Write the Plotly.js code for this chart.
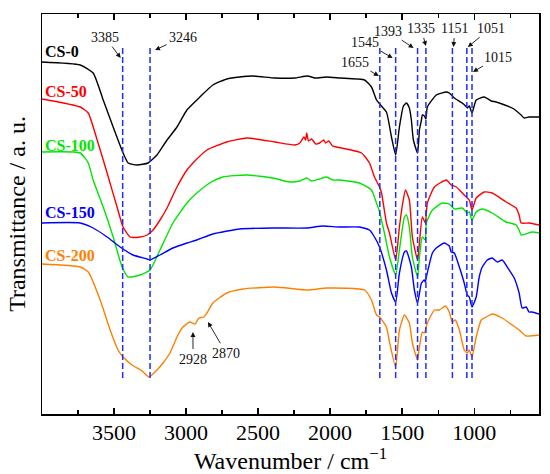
<!DOCTYPE html>
<html>
<head>
<meta charset="utf-8">
<script src="https://cdn.plot.ly/plotly-3.0.1.min.js"></script>
<style>html,body{margin:0;padding:0;background:#fff;}#chart{width:550px;height:474px;}</style>
</head>
<body>
<div id="chart"></div>
<script>
// ---- data (wavenumber in cm^-1, transmittance in arbitrary units, offset) ----
const seriesNames = ['CS-0', 'CS-50', 'CS-100', 'CS-150', 'CS-200'];
const seriesColors = ['#000000', '#ff0000', '#00e600', '#0000ff', '#ff8000'];

const cs0_wn = [4000,3735,3645,3575,3506,3437,3402,3340,3264,3202,3132,3063,2994,2904,2814,2717,2627,2537,2384,2246,2156,2105,2024,1934,1761,1713,1678,1650,1609,1574,1545,1519,1491,1470,1450,1436,1422,1393,1380,1366,1360,1346,1335,1325,1263,1193,1173,1138,1083,1060,1048,1034,1015,986,930,882,847,736,674,653,619,550];
const cs0_t  = [88,87.25,85.25,78.5,71.75,65.25,62.75,62.25,62.75,64.75,68.5,71.75,76,79.25,82.25,83.75,84.25,84.5,84,84,84.5,84,84.25,84,83.5,81.75,78.5,77.25,75.5,69.25,64.75,71.75,77,77.75,76.5,73.5,68.5,65.25,71,73.5,74.75,74.5,73.75,76.75,79.75,80.5,80.25,79,77.75,77,76.5,77,75.25,78.5,79.25,78.25,78,76.5,74.75,74,74.25,74.25];

const cs50_wn = [4000,3735,3679,3617,3548,3479,3437,3389,3319,3271,3229,3181,3132,3063,2994,2952,2855,2717,2578,2384,2246,2210,2182,2170,2163,2150,2128,2100,2073,2045,2031,2010,1983,1955,1782,1727,1692,1657,1643,1609,1588,1545,1519,1498,1477,1450,1429,1393,1380,1360,1339,1325,1276,1193,1159,1124,1069,1034,1015,986,930,875,778,709,688,674,619,550];
const cs50_t  = [78.75,76.75,75.25,68.5,60.25,51.75,46.75,44.25,44.25,44.75,46,48.5,51.5,56.75,61,62.75,66,68,69,68,67.25,67.75,69.25,68.5,70.25,68.25,68.75,67.5,67.75,68.5,67.75,68.25,67,66.75,65.25,62.75,59.25,56.75,55.25,47.75,45.25,38.5,46.75,52.25,56,53.5,44.25,38.5,42.75,49.25,47.75,52.75,56.75,58.5,57.25,56.75,54.75,53.5,51,54,55.5,55.25,53,51.5,49.75,47.75,47.75,47.25];

const cs100_wn = [4000,3735,3679,3645,3575,3506,3444,3402,3319,3250,3181,3091,2994,2925,2835,2745,2578,2398,2281,2210,2163,2128,2073,2024,1983,1934,1796,1713,1678,1657,1623,1588,1545,1519,1484,1470,1450,1429,1393,1380,1360,1339,1332,1290,1221,1173,1138,1083,1048,1034,1015,986,944,875,778,709,688,674,598,550];
const cs100_t  = [65.5,65.25,62.75,58.5,51.75,44.25,36.75,34.25,34.75,36,41,47.75,52.75,55.25,57.75,59.25,59.75,59,58,58.25,59,58.25,58.75,59.25,58.5,58.5,57.75,56,52.75,50.5,45.25,39.25,34.75,41,49.25,49.75,46.75,39.25,34.25,39.25,44.25,43.5,47.75,51,52.75,52.5,51.25,51.5,50.25,50.5,48.5,50.5,51.25,50.25,48,47.25,46,44.75,45.5,45.25];

const cs150_wn = [4000,3735,3645,3548,3458,3368,3271,3250,3181,3091,2994,2925,2814,2627,2398,2163,2052,1934,1796,1727,1692,1657,1609,1574,1545,1519,1484,1470,1436,1415,1393,1366,1346,1339,1332,1290,1263,1207,1173,1159,1138,1103,1069,1048,1034,1015,986,965,944,909,875,840,806,757,722,688,667,639,619,598,550];
const cs150_t  = [47.75,47.75,46.5,44.25,41.75,39.75,38.75,38.5,39.75,41.5,42.75,43.5,45,46.25,46.5,46.5,47,46.75,46.75,46,44.25,41.75,36,30.25,28,35.25,40.5,40.75,36.75,31,27.75,32.75,33.5,33,34.25,40.25,41.5,42.75,42,40.5,40.25,36.75,32.75,29.75,29.25,26.75,29.25,34.25,36.75,38.5,39,38,38.5,36,34,30.25,26.5,26.75,25.5,25.5,25];

const cs200_wn = [4000,3735,3679,3596,3527,3472,3437,3375,3305,3257,3202,3160,3112,3063,3022,2973,2938,2911,2876,2855,2814,2717,2606,2384,2156,2021,1761,1713,1678,1657,1609,1588,1545,1519,1484,1450,1429,1393,1380,1360,1346,1325,1276,1242,1200,1173,1152,1131,1103,1069,1048,1034,1015,986,951,916,875,806,736,688,639,550];
const cs200_t  = [37.5,36.75,35.5,28.5,21,16,14.25,12.25,10.75,9.25,11,12.75,15.25,19.25,21.75,23,22.5,24,24.25,25.25,27.75,30.25,31.25,31.75,31,31.5,31,28.5,24.75,24.25,21.75,18,11.75,21,24.75,22.75,17.75,13.5,16.75,20.5,20.25,22.75,26,26,27,25.5,23,23.5,21,16,15.25,16,14.25,19.25,23.5,24.25,25,24,22.25,21,19.5,19.75];

const peakLineWn = [3440, 3250, 1655, 1545, 1393, 1335, 1151, 1051, 1015];
const peakLabels = ['3385', '3246', '1655', '1545', '1393', '1335', '1151', '1051', '1015'];
const bandWn = [2952, 2848];
const bandLabels = ['2928', '2870'];

const xTickVals = [3500, 3000, 2500, 2000, 1500, 1000];
const xMinorVals = [3750, 3250, 2750, 2250, 1750, 1250, 750];

// ---- styling / layout helpers ----
const FONT = '"Liberation Serif", "Times New Roman", serif';
const L = 42, R = 11, T = 14, B = 60, W = 550, H = 474;
const X0 = 4000, X1 = 550, Y0 = 0, Y1 = 100;
const pw = W - L - R, ph = H - T - B;
const px2paperX = px => (px - L) / pw;
const px2paperY = py => (H - B - py) / ph;
const dataToPx = w => L + (X0 - w) / (X0 - X1) * pw;
const dataToPy = t => H - B - (t - Y0) / (Y1 - Y0) * ph;

const wnSets = [cs0_wn, cs50_wn, cs100_wn, cs150_wn, cs200_wn];
const tSets = [cs0_t, cs50_t, cs100_t, cs150_t, cs200_t];

const traces = seriesNames.map((n, i) => ({
  type: 'scatter', mode: 'lines', name: n,
  x: wnSets[i], y: tSets[i],
  line: {color: seriesColors[i], width: 1.4, shape: 'spline', smoothing: 0.5},
  hoverinfo: 'skip'
}));

const seriesLabelY = [52, 91, 145, 212, 255];
// text centre (tx, ty) in px, arrow tip height (data) and small horizontal shift (px)
const peakLabelLayout = [
  {tx:105, ty:37, tipY:89,    xs:-2},
  {tx:183, ty:37, tipY:91,    xs:5},
  {tx:355, ty:62, tipY:84.5,  xs:-1},
  {tx:365, ty:42, tipY:89,    xs:-3},
  {tx:388, ty:31, tipY:91.5,  xs:-4},
  {tx:421, ty:28, tipY:92,    xs:0},
  {tx:455, ty:28, tipY:91.75, xs:1},
  {tx:491, ty:28, tipY:91.75, xs:1},
  {tx:498, ty:57, tipY:85.5,  xs:1}
];
const bandLabelLayout = [
  {tx:193, ty:359, tipY:20.5, xs:0},
  {tx:226, ty:353, tipY:23,   xs:0}
];

const annotations = [];
seriesNames.forEach((n, i) => {
  annotations.push({xref:'paper', yref:'paper', x: px2paperX(43), y: px2paperY(seriesLabelY[i]),
    xanchor:'left', yanchor:'middle', showarrow:false, text:'<b>' + n + '</b>',
    font:{family: FONT, size:16, color: seriesColors[i]}});
});
function addLabel(text, lay, tipX) {
  const tipPx = dataToPx(tipX) + lay.xs;
  const tipPy = dataToPy(lay.tipY);
  annotations.push({xref:'x', yref:'y', x: tipX, y: lay.tipY, xshift: lay.xs,
    text: text, font:{family: FONT, size:14, color:'#111'}, borderpad:0,
    showarrow:true, arrowhead:2, arrowsize:1.1, arrowwidth:0.9, arrowcolor:'#111',
    axref:'pixel', ayref:'pixel', ax: lay.tx - tipPx, ay: lay.ty - tipPy, standoff:0, startstandoff:2});
}
peakLabels.forEach((t, i) => addLabel(t, peakLabelLayout[i], peakLineWn[i]));
bandLabels.forEach((t, i) => addLabel(t, bandLabelLayout[i], bandWn[i]));

const shapes = peakLineWn.map(w => ({
  type:'line', xref:'x', yref:'y', x0:w, x1:w, y0:9, y1:91.5,
  line:{color:'#1e2cff', width:1.5, dash:'6px,3px'}
}));

const layout = {
  width: W, height: H,
  margin: {l: L, r: R, t: T, b: B, pad: 0},
  paper_bgcolor:'#fff', plot_bgcolor:'#fff',
  showlegend:false,
  font:{family: FONT, color:'#000'},
  xaxis: {
    range:[X0, X1], tickmode:'array', tickvals: xTickVals,
    ticks:'inside', ticklen:6, tickwidth:1.3, tickcolor:'#000', ticklabelstandoff:-2,
    showline:true, linewidth:1.5, linecolor:'#000', mirror:'allticks',
    showgrid:false, zeroline:false,
    tickfont:{family: FONT, size:22, color:'#000'},
    minor:{tickmode:'array', tickvals: xMinorVals, ticks:'inside', ticklen:4, tickwidth:1.3, tickcolor:'#000', showgrid:false},
    title:{text:'Wavenumber / cm<sup>\u22121</sup>', font:{family: FONT, size:24, color:'#000'}, standoff:2}
  },
  yaxis: {
    range:[Y0, Y1], showticklabels:false, ticks:'',
    showline:true, linewidth:1.5, linecolor:'#000', mirror:true,
    showgrid:false, zeroline:false,
    title:{text:'Transmittance / a. u.', font:{family: FONT, size:24, color:'#000'}, standoff:8}
  },
  shapes: shapes,
  annotations: annotations
};

Plotly.newPlot('chart', traces, layout, {staticPlot:true, displayModeBar:false});
</script>
</body>
</html>
